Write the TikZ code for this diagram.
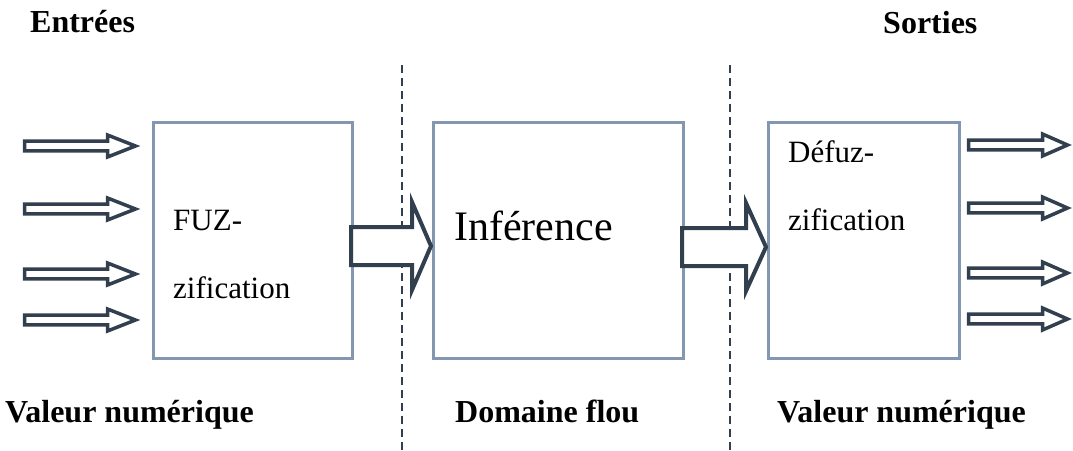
\documentclass[tikz,border=0pt]{standalone}
\usepackage{fontspec}
\setmainfont{LiberationSerif}[
  Extension=.ttf,
  UprightFont=*-Regular,
  BoldFont=*-Bold,
  ItalicFont=*-Italic,
  BoldItalicFont=*-BoldItalic]
\definecolor{boxedge}{HTML}{8497B0}
\definecolor{arrowink}{HTML}{323F4F}
\tikzset{
  block/.style={draw=boxedge, line width=3pt, fill=white, anchor=north west, inner sep=0pt},
  label/.style={anchor=base west, inner sep=0pt, font=\fontsize{31}{37}\selectfont},
  heading/.style={label, font=\fontsize{32}{38}\selectfont\bfseries},
  divider/.style={draw=arrowink, line width=2.2pt, dash pattern=on 8pt off 5pt},
  % hollow block arrow: #1 length, #2 head length, #3 half shaft, #4 half head, #5 pen
  pics/blockarrow/.style n args={5}{code={
    \draw[draw=arrowink, fill=white, line width=#5, line join=miter]
      (0,#3) -- ({#1-#2},#3) -- ({#1-#2},#4) -- (#1,0)
      -- ({#1-#2},-#4) -- ({#1-#2},-#3) -- (0,-#3) -- cycle;
  }},
}
\begin{document}
\begin{tikzpicture}[x=1pt, y=-1pt]
  \useasboundingbox (0,0) rectangle (1073,450);

  % processing stages
  \node[block, minimum width=199pt, minimum height=236pt] (fuz) at (152,121) {};
  \node[block, minimum width=250pt, minimum height=236pt] (inf) at (432,121) {};
  \node[block, minimum width=191pt, minimum height=236pt] (defuz) at (767,121) {};

  % boundaries between the numeric and fuzzy domains
  \coordinate (d1top) at (402,65);
  \coordinate (d1bot) at (402,450);
  \coordinate (d2top) at (730,65);
  \coordinate (d2bot) at (730,450);
  \draw[divider] (d1top) -- (d1bot);
  \draw[divider] (d2top) -- (d2bot);

  % transfer arrows between stages
  \pic at (351,246) {blockarrow={80}{19}{19}{44}{4pt}};
  \pic at (682,247) {blockarrow={84}{20}{19}{44}{4pt}};

  % inputs
  \foreach \yy in {146,209,274,320}
    \pic at (24.5,\yy) {blockarrow={111}{28}{4.8}{11}{3.5pt}};
  % outputs
  \foreach \yy in {145,208,273,319}
    \pic at (968.5,\yy) {blockarrow={99}{25}{4.8}{11}{3.5pt}};

  % stage texts
  \node[label] (fuzA) at (173,230) {FUZ-};
  \node[label] (fuzB) at (173,298) {zification};
  \node[label, font=\fontsize{42}{50}\selectfont] (infT) at (454,240) {Inférence};
  \node[label] (defA) at (788,162) {Défuz-};
  \node[label] (defB) at (788,230) {zification};

  % headings
  \node[heading] (inputs) at (30,32) {Entrées};
  \node[heading] (outputs) at (883,33) {Sorties};
  \node[heading] (numL) at (5,422) {Valeur numérique};
  \node[heading] (fuzzy) at (455,422) {Domaine flou};
  \node[heading] (numR) at (777,422) {Valeur numérique};
\end{tikzpicture}
\end{document}
